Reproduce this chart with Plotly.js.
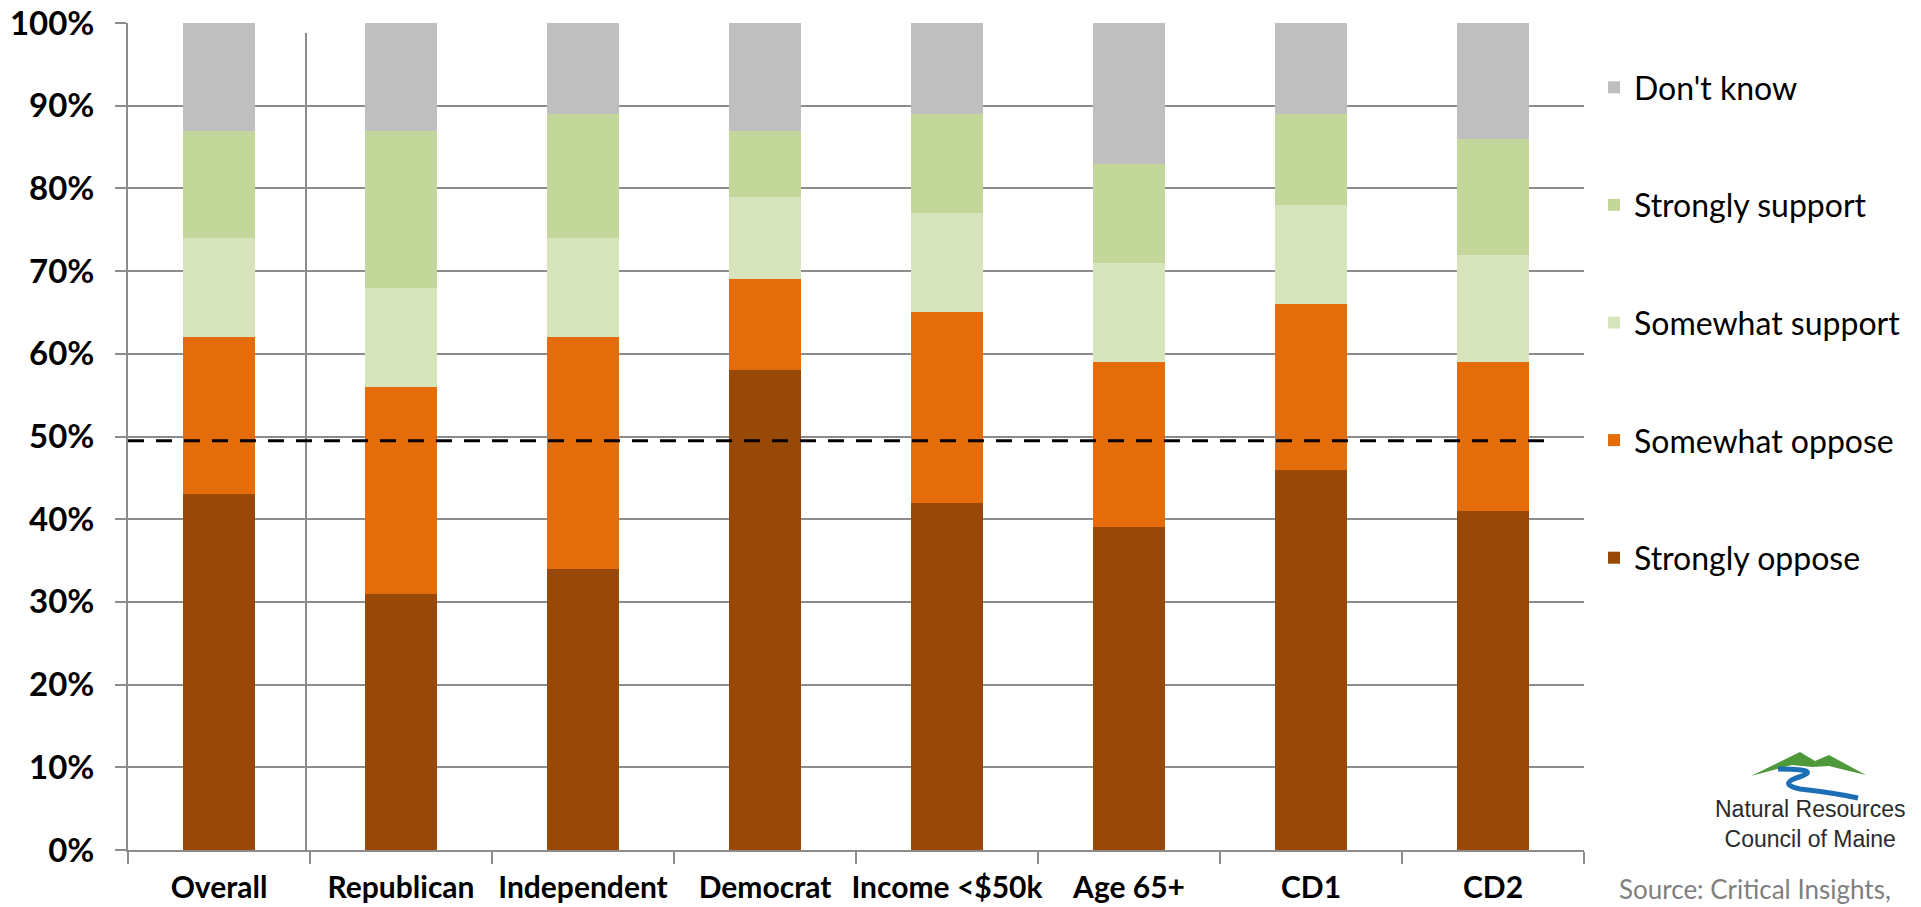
<!DOCTYPE html>
<html>
<head>
<meta charset="utf-8">
<script src="https://cdn.plot.ly/plotly-3.0.1.min.js"></script>
<style>
html,body{margin:0;padding:0;background:#fff;}
#chart{width:1921px;height:907px;}
</style>
</head>
<body>
<div id="chart"></div>
<script>
// ---- data ----
const categories = ["Overall", "Republican", "Independent", "Democrat", "Income <$50k", "Age 65+", "CD1", "CD2"];
const stronglyOppose  = [43, 31, 34, 58, 42, 39, 46, 41];
const somewhatOppose  = [19, 25, 28, 11, 23, 20, 20, 18];
const somewhatSupport = [12, 12, 12, 10, 12, 12, 12, 13];
const stronglySupport = [13, 19, 15,  8, 12, 12, 11, 14];
const dontKnow        = [13, 13, 11, 13, 11, 17, 11, 14];
const seriesNames = ["Strongly oppose", "Somewhat oppose", "Somewhat support", "Strongly support", "Don't know"];
const seriesColors = ["#984807", "#E46C0A", "#D8E4BC", "#C4D79B", "#BFBFBF"];
const referenceLine = 49.5;
const yTickValues = [0, 10, 20, 30, 40, 50, 60, 70, 80, 90, 100];
const yTickLabels = ["0%", "10%", "20%", "30%", "40%", "50%", "60%", "70%", "80%", "90%", "100%"];
const sourceText = "Source: Critical Insights,";
const logoText = "Natural Resources<br>Council of Maine";

// ---- layout geometry (pixels) ----
const W = 1921, H = 907;
const L = 128, R = 1584, T = 23, B = 850;
const px = x => (x - L) / (R - L);
const py = y => (B - y) / (B - T);

const allSeries = [stronglyOppose, somewhatOppose, somewhatSupport, stronglySupport, dontKnow];
const traces = allSeries.map((vals, i) => ({
  type: "bar",
  name: seriesNames[i],
  x: categories,
  y: vals,
  legendgroup: "g" + i,
  legendrank: 100 - i,
  marker: {color: seriesColors[i], line: {width: 0}},
  hoverinfo: "skip"
}));

function pathFrom(cmds) {
  return cmds.map(c => {
    const [op, ...pts] = c;
    let s = op;
    for (let k = 0; k < pts.length; k += 2) {
      s += (k ? " " : "") + px(pts[k]).toFixed(5) + "," + py(pts[k + 1]).toFixed(5);
    }
    return s;
  }).join(" ");
}

const mountainPath = pathFrom([
  ["M", 1751, 776], ["L", 1800, 752], ["L", 1815, 761], ["L", 1829, 755],
  ["L", 1866, 775], ["L", 1845, 770], ["L", 1829, 766], ["L", 1812, 767],
  ["L", 1792, 765], ["Z"]
]);
const riverPath = pathFrom([
  ["M", 1778, 769], ["Q", 1820, 769, 1802, 776], ["Q", 1776, 784, 1800, 789],
  ["Q", 1835, 793, 1858, 798]
]);

const gridGray = "#8c8c8c";

const layout = {
  width: W, height: H,
  margin: {l: L, r: W - R, t: T, b: H - B, pad: 0},
  paper_bgcolor: "#ffffff",
  plot_bgcolor: "#ffffff",
  barmode: "stack",
  bargap: 0.6,
  showlegend: true,
  legend: {
    x: px(1594), xanchor: "left",
    y: py(60), yanchor: "top",
    traceorder: "grouped",
    tracegroupgap: 73,
    font: {family: "Lato, 'Open Sans', sans-serif", size: 32, color: "#000"},
    bgcolor: "rgba(0,0,0,0)"
  },
  xaxis: {
    type: "category",
    range: [-0.5, 7.5],
    showgrid: false,
    showline: true, linecolor: gridGray, linewidth: 2,
    ticks: "outside", tickson: "boundaries", ticklen: 12, tickcolor: gridGray, tickwidth: 2,
    tickangle: 0,
    ticklabelstandoff: 10,
    tickfont: {family: "Lato, 'Open Sans', sans-serif", size: 30, color: "#000", weight: "bold"},
    fixedrange: true
  },
  yaxis: {
    range: [0, 100],
    tickmode: "array",
    tickvals: yTickValues,
    ticktext: yTickLabels,
    showgrid: true, gridcolor: gridGray, gridwidth: 2,
    zeroline: false,
    showline: true, linecolor: gridGray, linewidth: 2,
    ticks: "outside", ticklen: 11, tickcolor: gridGray, tickwidth: 2,
    ticklabelstandoff: 14,
    tickfont: {family: "Lato, 'Open Sans', sans-serif", size: 33, color: "#000", weight: "bold"},
    fixedrange: true
  },
  shapes: [
    {type: "line", xref: "x", yref: "paper", x0: 0.478, x1: 0.478, y0: 0, y1: py(33),
     line: {color: gridGray, width: 2}, layer: "below"},
    {type: "line", xref: "paper", yref: "y", x0: 0, x1: px(1547), y0: referenceLine, y1: referenceLine,
     line: {color: "#000", width: 3, dash: "16px,12px"}},
    {type: "path", xref: "paper", yref: "paper", path: mountainPath,
     fillcolor: "#4e9a3a", line: {width: 0}},
    {type: "path", xref: "paper", yref: "paper", path: riverPath,
     fillcolor: "rgba(0,0,0,0)", line: {color: "#1d6fb5", width: 5}}
  ],
  annotations: [
    {xref: "paper", yref: "paper", x: px(1810), y: py(824), xanchor: "center", yanchor: "middle",
     text: logoText, showarrow: false, align: "center",
     font: {family: "'Liberation Sans Narrow', 'Liberation Sans', sans-serif", size: 23, color: "#2b2b2b"}},
    {xref: "paper", yref: "paper", x: px(1617), y: py(889), xanchor: "left", yanchor: "middle",
     text: sourceText, showarrow: false,
     font: {family: "Lato, 'Open Sans', sans-serif", size: 26, color: "#7f7f7f"}}
  ]
};

Plotly.newPlot("chart", traces, layout, {displayModeBar: false, staticPlot: true});
</script>
</body>
</html>
